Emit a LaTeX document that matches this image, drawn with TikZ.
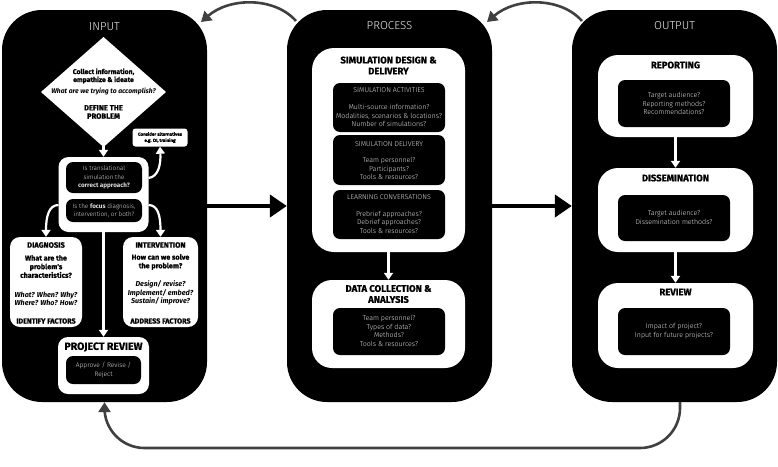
\documentclass[tikz,border=0pt]{standalone}
\usepackage{fontspec}
\setmainfont{Fira Sans}
\newfontfamily\lightf{Fira Sans Light}
\newfontfamily\heavyf{Fira Sans Bold}[FakeBold=0.8]
\usetikzlibrary{arrows.meta}
\newcommand\myfs[2]{\fontsize{#1}{#2}\selectfont}
\newcommand\mbf[1]{{\normalfont\bfseries #1}}
\begin{document}
\begin{tikzpicture}[x=1pt,y=-1pt,
  panel/.style={fill=black, rounded corners=40pt, minimum width=205pt, minimum height=392pt, inner sep=0pt},
  wbox/.style={fill=white, inner sep=0pt},
  bbox/.style={fill=black, inner sep=0pt, rounded corners=7pt},
  ttl/.style={text=black!8, font=\lightf\myfs{11.5}{13}, inner sep=0pt},
  hd/.style={font=\heavyf\myfs{9.5}{11}, align=center, inner sep=0pt},
  btxt/.style={text=black!12, font=\lightf\myfs{7}{8.6}, align=center, inner sep=0pt},
  qtxt/.style={text=black!12, font=\lightf\myfs{6.3}{8.6}, align=center, inner sep=0pt},
  wtxt/.style={font=\heavyf\myfs{7.2}{8.6}, align=center, inner sep=0pt},
  witxt/.style={font=\bfseries\itshape\myfs{7.2}{8.4}, align=center, inner sep=0pt},
  warr/.style={draw=white, line width=2.2pt, -{Triangle[length=7pt,width=9pt]}},
  garr/.style={draw=black!75, line width=2.6pt, -{Triangle[length=10pt,width=12pt]}},
  barr/.style={draw=black, line width=4.5pt, -{Triangle[length=17pt,width=22pt]}}]
\useasboundingbox (0,0) rectangle (778,466);

% panels
\node[panel] (inp) at (104.5,206) {};
\node[panel] (proc) at (389.5,206) {};
\node[panel] (outp) at (674.5,206) {};
\node[ttl] (tin) at (104.5,27) {INPUT};
\node[ttl] (tproc) at (389.5,26) {PROCESS};
\node[ttl] (tout) at (674.5,26) {OUTPUT};

% ---------- INPUT ----------
\path[fill=white] (103.5,37) -- (166,92) -- (103.5,147) -- (41,92) -- cycle;
\coordinate (dbot) at (103.5,141);
\node[wtxt, font=\heavyf\myfs{6.8}{8}] (d1) at (103.5,76) {Collect information,\\empathize \& ideate};
\node[witxt, font=\bfseries\itshape\myfs{6.8}{8}] (d2) at (103.5,91.5) {What are we trying to accomplish?};
\node[wtxt, font=\heavyf\myfs{7.6}{8.3}] (d3) at (103.5,112) {DEFINE THE\\PROBLEM};

\node[wbox, rounded corners=10pt, minimum width=90pt, minimum height=75pt] (q) at (103.5,194.5) {};
\node[bbox, minimum width=76pt, minimum height=31pt] (q1) at (104,177.5) {};
\node[qtxt] (q1t) at (q1) {Is translational\\simulation the\\\mbf{correct approach?}};
\node[bbox, minimum width=76pt, minimum height=23pt] (q2) at (104,210.5) {};
\node[qtxt] (q2t) at (q2) {Is the \mbf{focus} diagnosis,\\intervention, or both?};
\draw[warr] (dbot) -- (q.north);

\node[wbox, rounded corners=3pt, minimum width=55pt, minimum height=18pt, font=\heavyf\myfs{4.5}{6.2}, align=center] (cons) at (160,137.5) {Consider alternatives\\e.g. OI, training};
\coordinate (qr) at (148.5,178);
\draw[warr] (qr) .. controls (158,177) and (161,165) .. (cons.south);

\node[wbox, rounded corners=10pt, minimum width=72pt, minimum height=90pt] (diag) at (46,282) {};
\node[wtxt, font=\heavyf\myfs{7.6}{8.6}] (diagt) at (46,245) {DIAGNOSIS};
\node[wtxt] (diagq) at (46,266.5) {What are the\\problem's\\characteristics?};
\node[witxt] (diagw) at (46,299) {What? When? Why?\\Where? Who? How?};
\node[wtxt] (diagf) at (46,321) {IDENTIFY FACTORS};

\node[wbox, rounded corners=10pt, minimum width=75pt, minimum height=90pt] (intv) at (160.5,282) {};
\node[wtxt, font=\heavyf\myfs{7.6}{8.6}] (intt) at (160.5,245) {INTERVENTION};
\node[wtxt] (intq) at (160.5,262) {How can we solve\\the problem?};
\node[witxt] (intd) at (160.5,293) {Design/ revise?\\Implement/ embed?\\Sustain/ improve?};
\node[wtxt] (intf) at (160.5,321) {ADDRESS FACTORS};

\coordinate (ql) at (58.5,205);
\coordinate (qrr) at (148.5,205);
\draw[warr] (ql) .. controls (49,205) and (46,216) .. (diag.north);
\draw[warr] (qrr) .. controls (158,205) and (160.5,216) .. (intv.north);

\node[wbox, rounded corners=10pt, minimum width=91pt, minimum height=57pt] (prev) at (103.5,365.5) {};
\node[hd, font=\heavyf\myfs{10.5}{12}] (prevt) at (103.5,347) {PROJECT REVIEW};
\node[bbox, minimum width=75pt, minimum height=28pt] (prevb) at (103.5,370) {};
\node[qtxt, font=\lightf\myfs{6.6}{8.6}] (prevbt) at (prevb) {Approve / Revise /\\Reject};
\draw[warr] (q.south) -- (prev.north);

% ---------- PROCESS ----------
\node[wbox, rounded corners=22pt, minimum width=153pt, minimum height=204pt] (sdd) at (388.5,150) {};
\node[hd] (sddt) at (388.5,65.5) {SIMULATION DESIGN \&\\DELIVERY};
\node[bbox, minimum width=112pt, minimum height=49pt] (sa) at (389,107.5) {};
\node[btxt] (sah) at (389,90) {SIMULATION ACTIVITIES};
\node[btxt] (sat) at (389,115.5) {Multi-source information?\\Modalities, scenarios \& locations?\\Number of simulations?};
\node[bbox, minimum width=112pt, minimum height=50pt] (sd) at (389,160) {};
\node[btxt] (sdh) at (389,144) {SIMULATION DELIVERY};
\node[btxt] (sdt) at (389,168.5) {Team personnel?\\Participants?\\Tools \& resources?};
\node[bbox, minimum width=112pt, minimum height=49pt] (lc) at (389,214.5) {};
\node[btxt] (lch) at (389,197) {LEARNING CONVERSATIONS};
\node[btxt] (lct) at (389,222) {Prebrief approaches?\\Debrief approaches?\\Tools \& resources?};

\node[wbox, rounded corners=20pt, minimum width=153pt, minimum height=88pt] (dca) at (388.5,324) {};
\node[hd] (dcat) at (388.5,294) {DATA COLLECTION \&\\ANALYSIS};
\node[bbox, minimum width=112pt, minimum height=47pt] (dcab) at (389,331.5) {};
\node[btxt] (dcabt) at (389,331) {Team personnel?\\Types of data?\\Methods?\\Tools \& resources?};
\draw[warr] (sdd.south) -- (dca.north);

% ---------- OUTPUT ----------
\node[wbox, rounded corners=20pt, minimum width=155pt, minimum height=82pt] (rep) at (675.5,96) {};
\node[hd] (rept) at (675.5,65) {REPORTING};
\node[bbox, minimum width=112pt, minimum height=47pt] (repb) at (674,103.5) {};
\node[btxt] (repbt) at (674,103.5) {Target audience?\\Reporting methods?\\Recommendations?};

\node[wbox, rounded corners=20pt, minimum width=155pt, minimum height=84pt] (dis) at (675.5,210) {};
\node[hd] (dist) at (675.5,178) {DISSEMINATION};
\node[bbox, minimum width=112pt, minimum height=46pt] (disb) at (674,218) {};
\node[btxt] (disbt) at (674,217.5) {Target audience?\\Dissemination methods?};

\node[wbox, rounded corners=20pt, minimum width=155pt, minimum height=85pt] (rev) at (675.5,325.5) {};
\node[hd] (revt) at (675.5,292) {REVIEW};
\node[bbox, minimum width=112pt, minimum height=47pt] (revb) at (674,331.5) {};
\node[btxt] (revbt) at (674,331) {Impact of project?\\Input for future projects?};

\draw[warr] (rep.south) -- (dis.north);
\draw[warr] (dis.south) -- (rev.north);

% ---------- connectors between panels ----------
\draw[barr] (inp.east) -- (proc.west);
\draw[barr] (proc.east) -- (outp.west);

\coordinate (a1s) at (296,21);
\coordinate (a1e) at (201,22);
\draw[garr] (a1s) .. controls (275,-3) and (230,-3) .. (a1e);
\coordinate (a2s) at (582,21);
\coordinate (a2e) at (487,22);
\draw[garr] (a2s) .. controls (561,-3) and (516,-3) .. (a2e);

\coordinate (b1) at (680,402);
\draw[garr, rounded corners=40pt] (b1) -- (680,448) -- (104.5,448) -- (inp.south);
\end{tikzpicture}
\end{document}
